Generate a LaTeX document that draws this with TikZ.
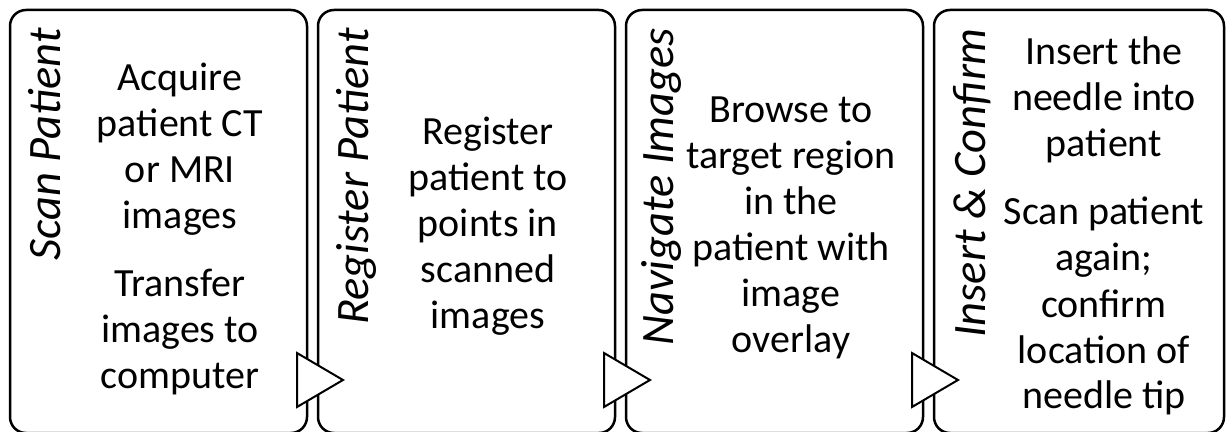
\documentclass[tikz,border=0pt]{standalone}
\usepackage{fontspec}
\setmainfont{Carlito}
\usetikzlibrary{positioning}

\begin{document}
\begin{tikzpicture}[x=1pt, y=1pt, node distance=11pt]
    \tikzstyle{stepbox} = [rectangle, rounded corners=16pt, draw=black, line width=2.5pt, minimum height=423pt, inner sep=0pt, outer sep=0pt, anchor=north west]
    \tikzstyle{steptitle} = [rotate=90, anchor=base east, inner sep=0pt, font=\fontsize{46.5}{54}\selectfont\itshape]
    \tikzstyle{steptext} = [align=center, anchor=base, inner sep=0pt, font=\fontsize{40}{46}\selectfont]
    \tikzstyle{flowtri} = [draw=black, fill=white, line width=2pt, line join=miter]

    \useasboundingbox (0,0) rectangle (1226,431);
    \clip (0,0) rectangle (1226,431);

    % Step boxes
    \node [stepbox, minimum width=297pt] (scan) at (10,421) {};
    \node [stepbox, minimum width=297pt, right=of scan] (register) {};
    \node [stepbox, minimum width=297pt, right=of register] (navigate) {};
    \node [stepbox, minimum width=290pt, right=of navigate] (insert) {};

    % Step titles
    \node [steptitle] (scan_title) at ([shift={(50,-18)}]scan.north west) {Scan Patient};
    \node [steptitle] (register_title) at ([shift={(50,-18)}]register.north west) {Register Patient};
    \node [steptitle] (navigate_title) at ([shift={(47,-18)}]navigate.north west) {Navigate Images};
    \node [steptitle] (insert_title) at ([shift={(51,-18)}]insert.north west) {Insert \& Confirm};

    % Step descriptions (placed by the baseline of their last line)
    \node [steptext] (scan_acquire) at ([shift={(170,-219)}]scan.north west) {Acquire\\patient CT\\or MRI\\images};
    \node [steptext] (scan_transfer) at ([shift={(170,-379)}]scan.north west) {Transfer\\images to\\computer};
    \node [steptext] (register_text) at ([shift={(170,-319)}]register.north west) {Register\\patient to\\points in\\scanned\\images};
    \node [steptext] (navigate_text) at ([shift={(165,-343)}]navigate.north west) {Browse to\\target region\\in the\\patient with\\image\\overlay};
    \node [steptext] (insert_needle) at ([shift={(170,-147)}]insert.north west) {Insert the\\needle into\\patient};
    \node [steptext] (insert_confirm) at ([shift={(170,-399)}]insert.north west) {Scan patient\\again;\\confirm\\location of\\needle tip};

    % Flow arrows between steps
    \draw [flowtri] ([shift={(-10,80)}]scan.south east) -- ++(46,-27) -- ++(-46,-27) -- cycle;
    \draw [flowtri] ([shift={(-11,80)}]register.south east) -- ++(46,-27) -- ++(-46,-27) -- cycle;
    \draw [flowtri] ([shift={(-11,80)}]navigate.south east) -- ++(46,-27) -- ++(-46,-27) -- cycle;
\end{tikzpicture}
\end{document}
